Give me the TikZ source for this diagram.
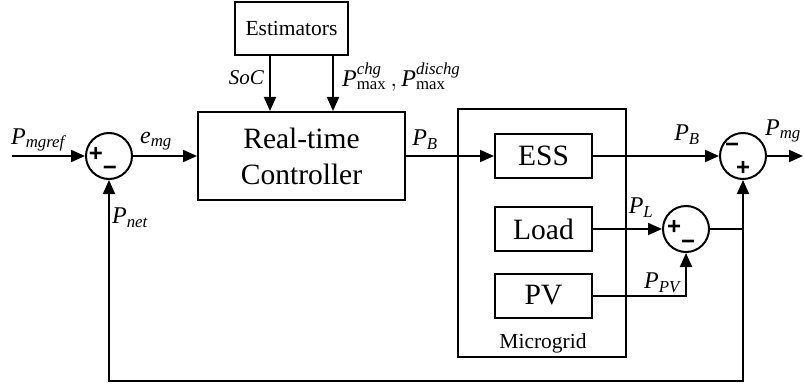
\documentclass[tikz,border=0pt]{standalone}
\usepackage{amsmath}
\usepackage{fontspec}
\setmainfont{Liberation Serif}
\newfontfamily\signfont{Liberation Sans}
\usetikzlibrary{arrows.meta}

% italic signal name with italic subscript
\newcommand\sig[2]{$\textit{#1}_{\textit{#2}}$}

\tikzset{
  box/.style 2 args={draw, rectangle, line width=2pt, inner sep=0pt,
    minimum width=#1, minimum height=#2},
  sumj/.style={draw, circle, line width=2pt, minimum size=46pt, inner sep=0pt},
  arr/.style={-{Triangle[length=14pt,width=12pt]}, line width=2pt},
  wire/.style={line width=2pt},
  lab/.style={font=\rmfamily\fontsize{24}{28}\selectfont, inner sep=0pt},
  sgn/.style={font=\signfont\bfseries\fontsize{24}{24}\selectfont, inner sep=0pt},
  bigtxt/.style={font=\rmfamily\fontsize{29.5}{36}\selectfont},
  smalltxt/.style={font=\rmfamily\fontsize{21.5}{26}\selectfont},
}

\begin{document}
\begin{tikzpicture}[x=1pt, y=-1pt, line join=miter]
\useasboundingbox (0,0) rectangle (805,385);

% blocks
\node[box={113}{53}, smalltxt] (est) at (291.5,28.5) {Estimators};
\node[box={207}{88}, bigtxt, align=center] (ctrl) at (301.5,156) {Real-time\\Controller};
\node[box={168}{248}] (mg) at (542,233) {};
\node[box={97}{44}, bigtxt] (ess) at (543.5,156) {ESS};
\node[box={97}{44}, bigtxt] (load) at (543.5,229) {Load};
\node[box={97}{44}, bigtxt] (pv) at (543.5,295.5) {PV};
\node[smalltxt, inner sep=0pt] (mglbl) at (543,343) {Microgrid};

% summing junctions and their signs
\node[sumj] (s1) at (109,156) {};
\node[sumj] (s2) at (743,156) {};
\node[sumj] (s3) at (686,229) {};
\node[sgn] (s1p) at (96,154) {+};
\node[sgn] (s1m) at (110,171) {−};
\node[sgn] (s2m) at (732,148) {−};
\node[sgn] (s2p) at (743,168) {+};
\node[sgn] (s3p) at (674,227) {+};
\node[sgn] (s3m) at (688,245) {−};

% helper points
\coordinate (in) at (12,156);
\coordinate (out) at (803,156);
\coordinate (socx) at (270,0);
\coordinate (pmx) at (333,0);
\coordinate (ybot) at (0,381);
\coordinate (j) at (s2 |- s3);

% connectors
\draw[arr] (in) -- (s1.west);
\draw[arr] (s1.east) -- (ctrl.west);
\draw[arr] (est.south -| socx) -- (ctrl.north -| socx);
\draw[arr] (est.south -| pmx) -- (ctrl.north -| pmx);
\draw[arr] (ctrl.east) -- (ess.west);
\draw[arr] (ess.east) -- (s2.west);
\draw[arr] (s2.east) -- (out);
\draw[arr] (load.east) -- (s3.west);
\draw[arr] (pv.east) -| (s3.south);
\draw[wire] (s3.east) -- (j);
\draw[arr] (j) -- (s2.south);
\draw[arr] (j) -- (s2 |- ybot) -| (s1.south);

% signal labels
\node[lab] (lref) at (38,140) {\sig{P}{mgref}};
\node[lab] (lemg) at (156,141) {\sig{e}{mg}};
\node[lab] (lpb1) at (425,140) {\sig{P}{B}};
\node[lab, font=\rmfamily\fontsize{21}{24}\selectfont\itshape, anchor=east] (lsoc) at (264,78) {SoC};
\node[lab, anchor=west] (lpmax) at (342,77) {$\textit{P}^{\textit{chg}}_{\textup{max}}\,,\textit{P}^{\textit{dischg}}_{\textup{max}}$};
\node[lab] (lpb2) at (687,135) {\sig{P}{B}};
\node[lab] (lpmg) at (783,131) {\sig{P}{mg}};
\node[lab] (lpl) at (641,208) {\sig{P}{L}};
\node[lab] (lppv) at (662,283) {\sig{P}{PV}};
\node[lab] (lpnet) at (130,218) {\sig{P}{net}};
\end{tikzpicture}
\end{document}
